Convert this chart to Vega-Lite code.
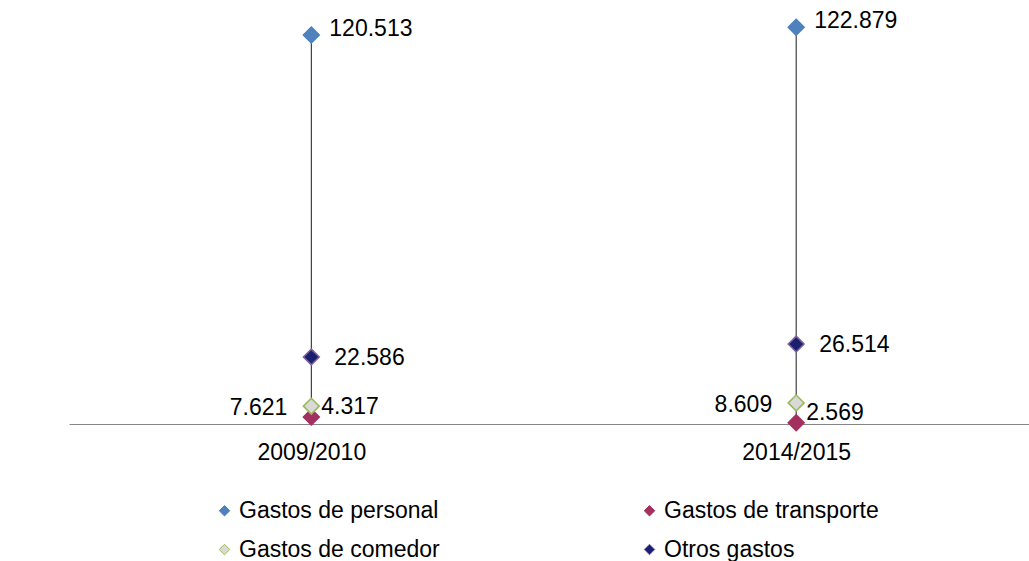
{
  "$schema": "https://vega.github.io/schema/vega-lite/v6.json",
  "width": 960,
  "height": 424,
  "autosize": {"type": "none"},
  "padding": {"left": 69, "top": 0, "right": 0, "bottom": 137},
  "background": "white",
  "config": {"view": {"stroke": null}, "font": "Liberation Sans"},
  "data": {
    "values": [
      {"curso": "2009/2010", "serie": "Gastos de transporte", "valor": 4.317, "etiqueta": "4.317"},
      {"curso": "2009/2010", "serie": "Gastos de comedor", "valor": 7.621, "etiqueta": "7.621"},
      {"curso": "2009/2010", "serie": "Otros gastos", "valor": 22.586, "etiqueta": "22.586"},
      {"curso": "2009/2010", "serie": "Gastos de personal", "valor": 120.513, "etiqueta": "120.513"},
      {"curso": "2014/2015", "serie": "Gastos de transporte", "valor": 2.569, "etiqueta": "2.569"},
      {"curso": "2014/2015", "serie": "Gastos de comedor", "valor": 8.609, "etiqueta": "8.609"},
      {"curso": "2014/2015", "serie": "Otros gastos", "valor": 26.514, "etiqueta": "26.514"},
      {"curso": "2014/2015", "serie": "Gastos de personal", "valor": 122.879, "etiqueta": "122.879"}
    ]
  },
  "encoding": {
    "x": {
      "field": "curso",
      "type": "nominal",
      "scale": {"type": "point", "padding": 0.49, "align": 0.51},
      "axis": {
        "title": null,
        "labelAngle": 0,
        "labelFontSize": 23,
        "labelColor": "#000000",
        "labelPadding": 17,
        "ticks": false,
        "domainColor": "#868686",
        "domainWidth": 1.2
      }
    }
  },
  "layer": [
    {
      "mark": {"type": "rule", "color": "#1A1A1A", "strokeWidth": 1},
      "encoding": {
        "y": {"aggregate": "min", "field": "valor", "type": "quantitative", "scale": {"domain": [2.2, 131.15], "nice": false, "zero": false}, "axis": null},
        "y2": {"aggregate": "max", "field": "valor"}
      }
    },
    {
      "mark": {"type": "point", "shape": "diamond", "filled": true, "size": 250, "strokeWidth": 1.6, "opacity": 1},
      "encoding": {
        "y": {"field": "valor", "type": "quantitative"},
        "fill": {
          "field": "serie",
          "type": "nominal",
          "scale": {
            "domain": ["Gastos de personal", "Gastos de comedor", "Gastos de transporte", "Otros gastos"],
            "range": ["#4F81BD", "#D9D9D9", "#A3305F", "#1A1F6E"]
          },
          "legend": {
            "title": null,
            "orient": "none",
            "legendX": 144,
            "legendY": 499,
            "columns": 2,
            "columnPadding": 198,
            "rowPadding": 15,
            "padding": 0,
            "labelFontSize": 23,
            "labelLimit": 400,
            "labelColor": "#000000",
            "labelOffset": 3,
            "symbolType": "diamond",
            "symbolSize": 110,
            "symbolStrokeWidth": 1
          }
        },
        "stroke": {
          "field": "serie",
          "type": "nominal",
          "scale": {
            "domain": ["Gastos de personal", "Gastos de comedor", "Gastos de transporte", "Otros gastos"],
            "range": ["#4F81BD", "#9BBB59", "#A3305F", "#8064A2"]
          },
          "legend": {
            "title": null,
            "orient": "none",
            "legendX": 144,
            "legendY": 499,
            "columns": 2,
            "columnPadding": 198,
            "rowPadding": 15,
            "padding": 0,
            "labelFontSize": 23,
            "labelLimit": 400,
            "labelColor": "#000000",
            "labelOffset": 3,
            "symbolType": "diamond",
            "symbolSize": 110,
            "symbolStrokeWidth": 1
          }
        }
      }
    },
    {
      "transform": [{"filter": "datum.serie === 'Gastos de personal'"}],
      "mark": {"type": "text", "align": "left", "baseline": "middle", "dx": 18, "dy": -6, "fontSize": 23, "color": "#000000"},
      "encoding": {"y": {"field": "valor", "type": "quantitative"}, "text": {"field": "etiqueta"}}
    },
    {
      "transform": [{"filter": "datum.serie === 'Otros gastos'"}],
      "mark": {"type": "text", "align": "left", "baseline": "middle", "dx": 23, "dy": 1, "fontSize": 23, "color": "#000000"},
      "encoding": {"y": {"field": "valor", "type": "quantitative"}, "text": {"field": "etiqueta"}}
    },
    {
      "transform": [{"filter": "datum.serie === 'Gastos de comedor'"}],
      "mark": {"type": "text", "align": "right", "baseline": "middle", "dx": -24, "dy": 2, "fontSize": 23, "color": "#000000"},
      "encoding": {"y": {"field": "valor", "type": "quantitative"}, "text": {"field": "etiqueta"}}
    },
    {
      "transform": [{"filter": "datum.serie === 'Gastos de transporte'"}],
      "mark": {"type": "text", "align": "left", "baseline": "middle", "dx": 10, "dy": -10, "fontSize": 23, "color": "#000000"},
      "encoding": {"y": {"field": "valor", "type": "quantitative"}, "text": {"field": "etiqueta"}}
    }
  ]
}
